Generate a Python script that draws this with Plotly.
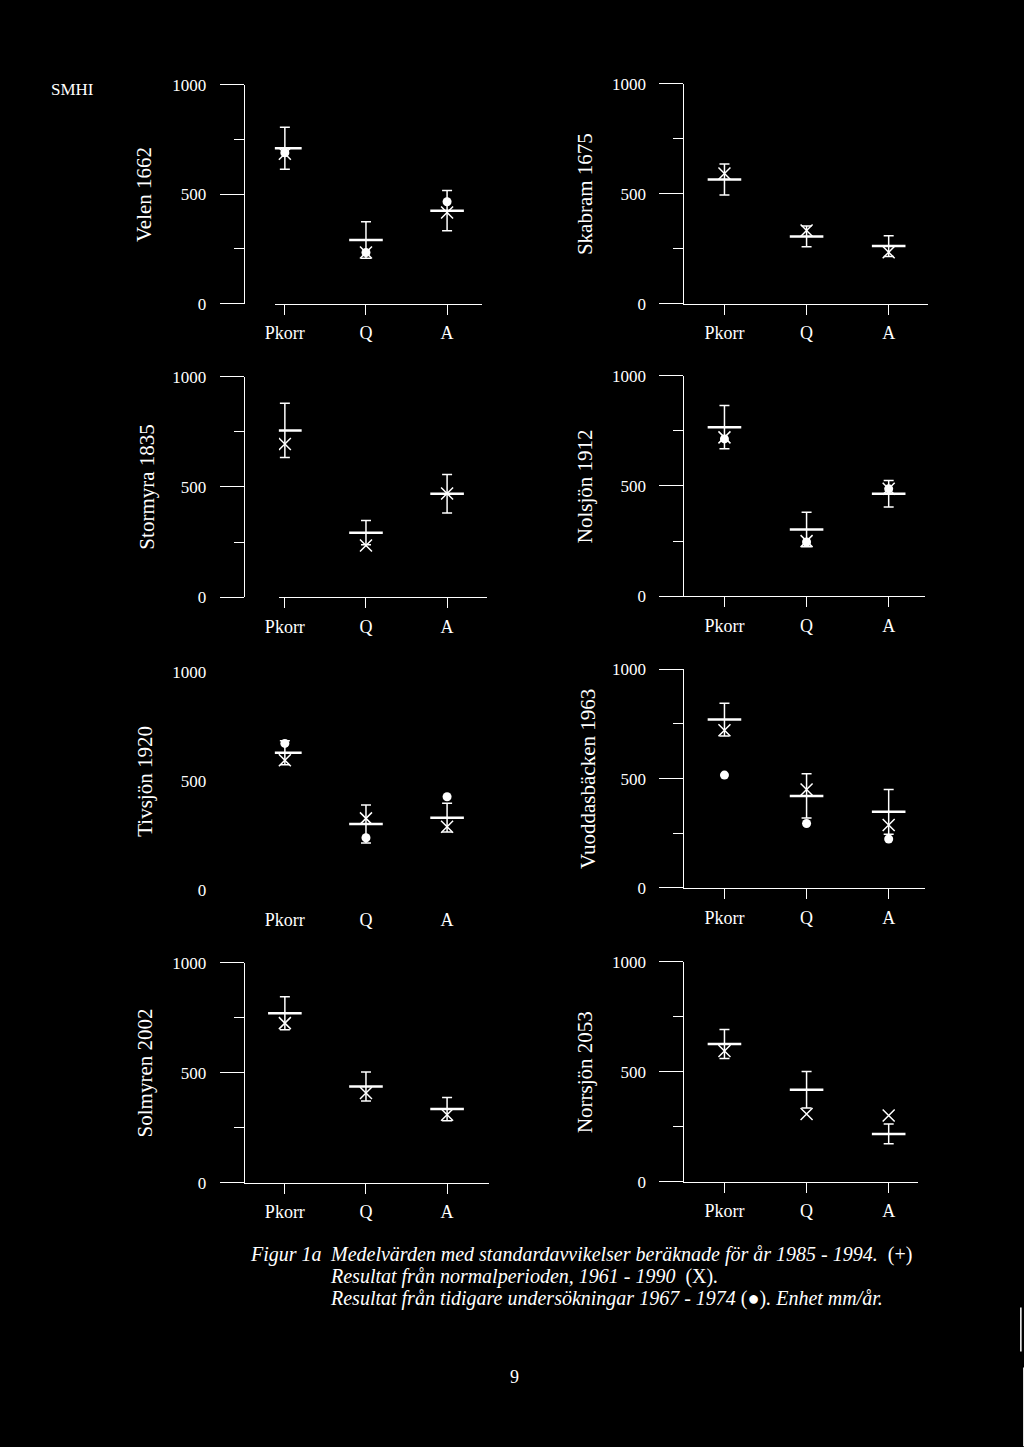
import plotly.graph_objects as go

# ---------------- data (mm/år) ----------------
categories = ["Pkorr", "Q", "A"]
stations = ["Velen 1662", "Skabram 1675", "Stormyra 1835", "Nolsjön 1912",
            "Tivsjön 1920", "Vuoddasbäcken 1963", "Solmyren 2002", "Norrsjön 2053"]

# Medelvärden 1985-1994 (+) and standardavvikelser
mean_8594 = [[711, 291, 425], [565, 306, 262], [756, 293, 469], [766, 303, 465],
             [630, 303, 332], [770, 421, 348], [771, 438, 335], [626, 418, 217]]
sd_8594 = [[96, 83, 92], [70, 47, 47], [123, 55, 87], [98, 78, 60],
           [55, 87, 66], [75, 101, 102], [75, 66, 53], [66, 83, 45]]
# Normalperioden 1961-1990 (X)
normal_6190 = [[685, 234, 417], [592, 333, 234], [695, 235, 470], [720, 250, 487],
               [596, 329, 290], [721, 450, 288], [726, 408, 309], [595, 308, 301]]
# Tidigare undersökningar 1967-1974 (●)
earlier_6774 = [[690, 234, 466], [None, None, None], [None, None, None], [713, 246, 487],
                [673, 240, 428], [516, 295, 224], [None, None, None], [None, None, None]]

y_ticks = [0, 500, 1000]
y_ticktext = ["0", "500", "1000"]
y_minor = [250, 750]

# ---------------- geometry (target page pixels) ----------------
W, H = 1024, 1447
# the photographed page is offset/scaled slightly; compensate
OX, OY, SX, SY = 12.5, 8.0, 0.985, 0.988

yaxis_x = [242, 681, 242, 681, 242, 681, 242, 681]
y0_px = [303, 303, 597, 596, 890, 888, 1183, 1182]
y1000_px = [84, 83, 376, 375, 672, 669, 963, 962]
xline_start = [273, 681, 277, 681, 273, 681, 242, 681]
xline_end = [480, 925, 485, 922, 485, 922, 487, 915]
cat0_px = [283, 722, 283, 722, 283, 722, 283, 722]
cat_step = [81, 82, 81, 82, 81, 82, 81, 82]
title_x = [143, 583, 145, 583, 143, 585, 143, 583]
draw_lines = [True, True, True, True, False, True, True, True]

FONT = "Liberation Serif"
WHITE = "white"


def fx(px):
    return (px - OX) / SX / W


def fy(py):
    return 1 - (py - OY) / SY / H


fig = go.Figure()
layout = dict(
    width=W, height=H, margin=dict(l=0, r=0, t=0, b=0),
    paper_bgcolor="black", plot_bgcolor="black", showlegend=False,
    font=dict(family=FONT, color=WHITE),
)
annotations = []

for k in range(8):
    n = k + 1
    xa = "x" if n == 1 else f"x{n}"
    ya = "y" if n == 1 else f"y{n}"

    # tidigare undersökningar (filled circles)
    fig.add_trace(go.Scatter(
        x=categories, y=earlier_6774[k], mode="markers", xaxis=xa, yaxis=ya,
        marker=dict(symbol="circle", size=9, color=WHITE, line=dict(width=0)),
        hoverinfo="skip"))
    # normalperioden (X)
    fig.add_trace(go.Scatter(
        x=categories, y=normal_6190[k], mode="markers", xaxis=xa, yaxis=ya,
        marker=dict(symbol="x-thin", size=12, color=WHITE,
                    line=dict(width=1.5, color=WHITE)),
        hoverinfo="skip"))
    # medelvärde 1985-1994 with standardavvikelse (+)
    fig.add_trace(go.Scatter(
        x=categories, y=mean_8594[k], mode="markers", xaxis=xa, yaxis=ya,
        marker=dict(symbol="line-ew", size=24, color=WHITE,
                    line=dict(width=2.5, color=WHITE)),
        error_y=dict(type="data", array=sd_8594[k], visible=True,
                     color=WHITE, thickness=1.5, width=5),
        hoverinfo="skip"))

    s = cat_step[k]
    p0 = cat0_px[k]
    xs, xe = xline_start[k], xline_end[k]
    lc = WHITE if draw_lines[k] else "black"

    layout["xaxis" if n == 1 else f"xaxis{n}"] = dict(
        domain=[fx(xs), fx(xe)], anchor=ya, type="category",
        categoryorder="array", categoryarray=categories,
        range=[(xs - p0) / s, (xe - p0) / s],
        showline=True, linecolor=lc, linewidth=1.2,
        ticks="outside", ticklen=10, tickwidth=1.2, tickcolor=lc,
        showgrid=False, zeroline=False,
        tickfont=dict(family=FONT, size=18, color=WHITE),
        ticklabelstandoff=3,
    )
    layout["yaxis" if n == 1 else f"yaxis{n}"] = dict(
        domain=[fy(y0_px[k]), fy(y1000_px[k])], anchor="free", position=fx(yaxis_x[k]),
        range=[0, 1000], tickmode="array", tickvals=y_ticks, ticktext=y_ticktext,
        showline=True, linecolor=lc, linewidth=1.2,
        ticks="outside", ticklen=24, tickwidth=1.2, tickcolor=lc,
        minor=dict(tickmode="array", tickvals=y_minor, ticks="outside",
                   ticklen=10, tickwidth=1.2, tickcolor=lc, showgrid=False),
        showgrid=False, zeroline=False,
        tickfont=dict(family=FONT, size=17, color=WHITE),
        ticklabelstandoff=10,
    )
    annotations.append(dict(
        text=stations[k], xref="paper", yref="paper",
        x=fx(title_x[k]), y=fy((y0_px[k] + y1000_px[k]) / 2),
        xanchor="center", yanchor="middle", textangle=-90, showarrow=False,
        font=dict(family=FONT, size=21, color=WHITE)))

annotations.append(dict(text="SMHI", xref="paper", yref="paper", x=fx(47), y=fy(89),
                        xanchor="left", yanchor="middle", showarrow=False,
                        font=dict(family=FONT, size=17, color=WHITE)))
cap_font = dict(family=FONT, size=20, color=WHITE)
annotations.append(dict(text="<i>Figur 1a</i>", xref="paper", yref="paper",
                        x=fx(246), y=fy(1255), xanchor="left", yanchor="middle",
                        showarrow=False, font=cap_font))
annotations.append(dict(text="<i>Medelvärden med standardavvikelser beräknade för år 1985 - 1994.</i>  (+)",
                        xref="paper", yref="paper", x=fx(326), y=fy(1255),
                        xanchor="left", yanchor="middle", showarrow=False, font=cap_font))
annotations.append(dict(text="<i>Resultat från normalperioden, 1961 - 1990</i>  (X)<i>.</i>",
                        xref="paper", yref="paper", x=fx(326), y=fy(1277),
                        xanchor="left", yanchor="middle", showarrow=False, font=cap_font))
annotations.append(dict(text="<i>Resultat från tidigare undersökningar 1967 - 1974</i> (●)<i>. Enhet mm/år.</i>",
                        xref="paper", yref="paper", x=fx(326), y=fy(1299),
                        xanchor="left", yanchor="middle", showarrow=False, font=cap_font))
annotations.append(dict(text="9", xref="paper", yref="paper", x=fx(512), y=fy(1378),
                        xanchor="center", yanchor="middle", showarrow=False,
                        font=dict(family=FONT, size=18, color=WHITE)))

layout["annotations"] = annotations
# scan edge marks at the lower right of the page
layout["shapes"] = [
    dict(type="line", xref="paper", yref="paper", x0=fx(1018), x1=fx(1018),
         y0=fy(1308), y1=fy(1352), line=dict(color=WHITE, width=1.5)),
    dict(type="line", xref="paper", yref="paper", x0=fx(1021), x1=fx(1021),
         y0=fy(1368), y1=fy(1447), line=dict(color=WHITE, width=1.5)),
]
fig.update_layout(**layout)

page_css = ("document.body.style.margin='0';document.body.style.padding='0';"
            "document.body.style.background='black';"
            "document.documentElement.style.background='black';")
fig.write_html("out.html", post_script=page_css, config={"displayModeBar": False})
